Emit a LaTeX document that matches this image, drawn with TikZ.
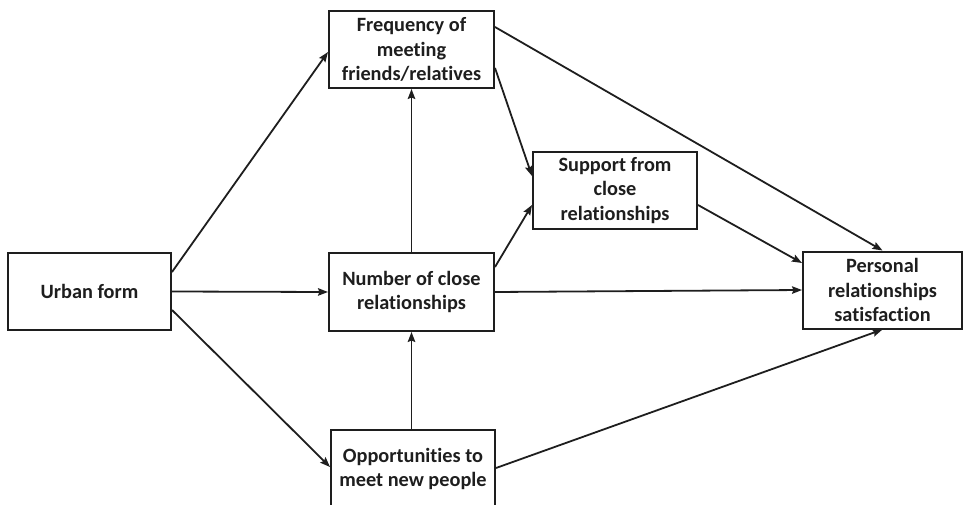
\documentclass[tikz,border=0pt]{standalone}
\usepackage{fontspec}
\setmainfont[RawFeature={-liga;-clig;-dlig;-calt}]{Carlito}
\usetikzlibrary{arrows.meta}
\definecolor{ink}{HTML}{1E1E1E}
\tikzset{
  x=1pt, y=1pt,
  box/.style={draw=ink, line width=2pt, fill=white, text=ink,
    align=center, inner sep=0pt, minimum width=#1, minimum height=77pt,
    font=\fontsize{20.3}{24.5}\selectfont\bfseries},
  box/.default=164pt,
  link/.style={draw=ink, line width=1.8pt,
    -{Stealth[length=10pt,width=7.5pt,inset=1.5pt]}},
}
\begin{document}
\begin{tikzpicture}
\useasboundingbox (0,0) rectangle (963,504);
\clip (0,0) rectangle (963,504);

% boxes
\node[box=163pt] (urban) at (89.5,212.5) {Urban form};
\node[box=165pt] (freq)  at (411.5,454.5) {Frequency of\\meeting\\friends/relatives};
\node[box=165pt, minimum height=78pt] (num) at (411.5,212) {Number of close\\relationships};
\node[box=164pt, minimum height=78pt] (opp) at (413,35) {Opportunities to\\meet new people};
\node[box=164pt] (supp)  at (615,313.5) {Support from\\close\\relationships};
\node[box=159pt] (pers)  at (882.5,214) {Personal\\relationships\\satisfaction};

% connectors
\draw[link] ([yshift=19.5pt]urban.east) -- ([yshift=-2.5pt]freq.west);
\draw[link] (urban.east) -- (num.west);
\draw[link] ([yshift=-18.5pt]urban.east) -- ([yshift=2pt]opp.west);
\draw[link] (num.north) -- (freq.south);
\draw[link] (num.south |- opp.north) -- (num.south);
\draw[link] ([yshift=-18.5pt]freq.east) -- ([yshift=14.5pt]supp.west);
\draw[link] ([yshift=25pt]num.east) -- ([yshift=-14.5pt]supp.west);
\draw[link] ([yshift=22.5pt]freq.east) -- (pers.north);
\draw[link] ([yshift=-14.5pt]supp.east) -- ([yshift=27pt]pers.west);
\draw[link] (num.east) -- (pers.west);
\draw[link] ([yshift=1pt]opp.east) -- (pers.south);
\end{tikzpicture}
\end{document}
